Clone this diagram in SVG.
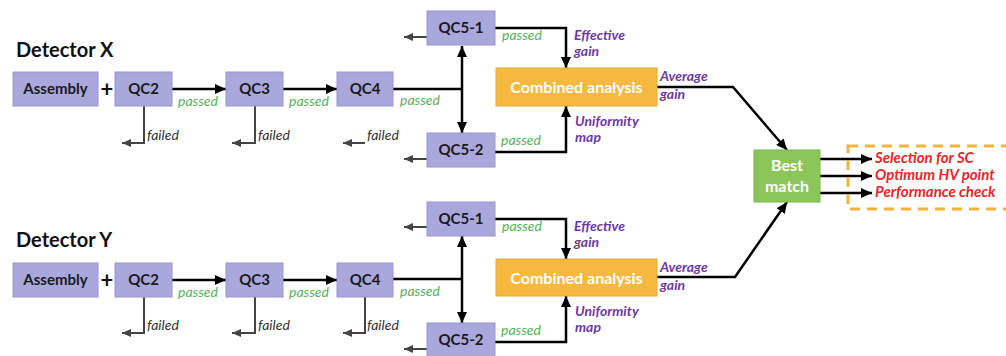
<svg xmlns="http://www.w3.org/2000/svg" width="1006" height="356" viewBox="0 0 1006 356">
<defs>
<style>
.box{fill:#A9A7DB;stroke:#9896CE;stroke-width:1}
.bt{font-family:Lato,"Liberation Sans",sans-serif;font-weight:bold;font-size:15px;fill:#1b1b1b;text-anchor:middle}
.det{font-family:Lato,"Liberation Sans",sans-serif;font-weight:bold;font-size:20px;fill:#111}
.plus{font-family:Lato,"Liberation Sans",sans-serif;font-weight:bold;font-size:22px;fill:#111;text-anchor:middle}
.pass{font-family:Lato,"Liberation Sans",sans-serif;font-style:italic;font-size:14px;fill:#55B159}
.fail{font-family:Lato,"Liberation Sans",sans-serif;font-style:italic;font-size:14px;fill:#333}
.pur{font-family:Lato,"Liberation Sans",sans-serif;font-style:italic;font-weight:bold;font-size:14px;fill:#7038A0}
.red{font-family:Lato,"Liberation Sans",sans-serif;font-style:italic;font-weight:bold;font-size:15px;fill:#E8262A}
.wt{font-family:Lato,"Liberation Sans",sans-serif;font-weight:bold;fill:#fff;text-anchor:middle}
.ca{fill:#F6B940;stroke:#E6A935;stroke-width:1}
.bm{fill:#8CC65A;stroke:#7DB64C;stroke-width:1}
.c{fill:none;stroke:#000;stroke-width:2.5}
.f{fill:none;stroke:#444;stroke-width:2}
</style>
<marker id="a" markerUnits="userSpaceOnUse" markerWidth="12" markerHeight="10" refX="11" refY="5" orient="auto-start-reverse"><path d="M0,0 L11,5 L0,10 Z" fill="#000"/></marker>
<marker id="g" markerUnits="userSpaceOnUse" markerWidth="10" markerHeight="8" refX="9" refY="4" orient="auto"><path d="M0,0 L9,4 L0,8 Z" fill="#444"/></marker>
</defs>
<rect width="1006" height="356" fill="#fff"/>

<g id="connectors">
<path class="c" d="M172,89 H226" marker-end="url(#a)"/>
<path class="c" d="M283,89 H337" marker-end="url(#a)"/>
<path class="c" d="M393,89 H462"/>
<path class="c" d="M462,46 V133" marker-start="url(#a)" marker-end="url(#a)"/>
<path class="c" d="M495,28 H566 V68" marker-end="url(#a)"/>
<path class="c" d="M495,152 H566 V106" marker-end="url(#a)"/>
<path class="c" d="M657,87 H733 L787,150" marker-end="url(#a)"/>
<path class="c" d="M820,159 H872" marker-end="url(#a)"/>
<path class="c" d="M820,176 H872" marker-end="url(#a)"/>
<path class="c" d="M820,193 H872" marker-end="url(#a)"/>
<path class="f" d="M144,106 V143 H122" marker-end="url(#g)"/>
<path class="f" d="M255,106 V143 H232" marker-end="url(#g)"/>
<path class="f" d="M365,143 H343" marker-end="url(#g)"/>
<path class="f" d="M427,37 H404" marker-end="url(#g)"/>
<path class="f" d="M427,159 H404" marker-end="url(#g)"/>

<path class="c" d="M172,280 H226" marker-end="url(#a)"/>
<path class="c" d="M283,280 H337" marker-end="url(#a)"/>
<path class="c" d="M393,279 H462"/>
<path class="c" d="M462,236 V323" marker-start="url(#a)" marker-end="url(#a)"/>
<path class="c" d="M495,219 H566 V259" marker-end="url(#a)"/>
<path class="c" d="M495,342 H566 V296" marker-end="url(#a)"/>
<path class="c" d="M657,277 H735 L787,202" marker-end="url(#a)"/>
<path class="f" d="M144,297 V333 H122" marker-end="url(#g)"/>
<path class="f" d="M255,297 V333 H232" marker-end="url(#g)"/>
<path class="f" d="M365,297 V333 H343" marker-end="url(#g)"/>
<path class="f" d="M427,227 H404" marker-end="url(#g)"/>
<path class="f" d="M427,349 H404" marker-end="url(#g)"/>
</g>

<g id="labels">
<text class="det" x="16" y="57">Detector X</text>
<text class="plus" x="107" y="97">+</text>
<text class="pass" x="178" y="106">passed</text>
<text class="pass" x="289" y="106">passed</text>
<text class="pass" x="400" y="105">passed</text>
<text class="pass" x="502" y="40">passed</text>
<text class="pass" x="501" y="145">passed</text>
<text class="fail" x="147" y="140">failed</text>
<text class="fail" x="258" y="140">failed</text>
<text class="fail" x="367" y="140">failed</text>
<text class="pur" x="574" y="40">Effective</text>
<text class="pur" x="574" y="56">gain</text>
<text class="pur" x="575" y="126">Uniformity</text>
<text class="pur" x="575" y="142">map</text>
<text class="pur" x="660" y="81" font-size="15">Average</text>
<text class="pur" x="660" y="99" font-size="15">gain</text>

<text class="det" x="16" y="247">Detector Y</text>
<text class="plus" x="107" y="288">+</text>
<text class="pass" x="178" y="297">passed</text>
<text class="pass" x="289" y="297">passed</text>
<text class="pass" x="400" y="296">passed</text>
<text class="pass" x="502" y="231">passed</text>
<text class="pass" x="501" y="335">passed</text>
<text class="fail" x="147" y="330">failed</text>
<text class="fail" x="258" y="330">failed</text>
<text class="fail" x="367" y="330">failed</text>
<text class="pur" x="574" y="231">Effective</text>
<text class="pur" x="574" y="247">gain</text>
<text class="pur" x="575" y="316">Uniformity</text>
<text class="pur" x="575" y="332">map</text>
<text class="pur" x="660" y="272" font-size="15">Average</text>
<text class="pur" x="660" y="290" font-size="15">gain</text>

<text class="red" x="875" y="163">Selection for SC</text>
<text class="red" x="875" y="180">Optimum HV point</text>
<text class="red" x="875" y="197">Performance check</text>
</g>

<g id="x-assembly"><rect class="box" x="13" y="72" width="85" height="34"/><text class="bt" x="55.5" y="94">Assembly</text></g>
<g id="x-qc2"><rect class="box" x="115" y="72" width="57" height="34"/><text class="bt" x="143.5" y="94">QC2</text></g>
<g id="x-qc3"><rect class="box" x="226" y="72" width="57" height="34"/><text class="bt" x="254.5" y="94">QC3</text></g>
<g id="x-qc4"><rect class="box" x="337" y="72" width="56" height="34"/><text class="bt" x="365" y="94">QC4</text></g>
<g id="x-qc5-1"><rect class="box" x="427" y="11" width="68" height="34"/><text class="bt" x="461" y="33">QC5-1</text></g>
<g id="x-qc5-2"><rect class="box" x="427" y="133" width="68" height="34"/><text class="bt" x="461" y="155">QC5-2</text></g>
<g id="x-combined"><rect class="ca" x="496" y="68" width="161" height="38"/><text class="wt" x="576.5" y="93" font-size="16">Combined analysis</text></g>

<g id="y-assembly"><rect class="box" x="13" y="263" width="85" height="34"/><text class="bt" x="55.5" y="285">Assembly</text></g>
<g id="y-qc2"><rect class="box" x="115" y="263" width="57" height="34"/><text class="bt" x="143.5" y="285">QC2</text></g>
<g id="y-qc3"><rect class="box" x="226" y="263" width="57" height="34"/><text class="bt" x="254.5" y="285">QC3</text></g>
<g id="y-qc4"><rect class="box" x="337" y="263" width="56" height="34"/><text class="bt" x="365" y="285">QC4</text></g>
<g id="y-qc5-1"><rect class="box" x="427" y="202" width="68" height="34"/><text class="bt" x="461" y="224">QC5-1</text></g>
<g id="y-qc5-2"><rect class="box" x="427" y="323" width="68" height="34"/><text class="bt" x="461" y="345">QC5-2</text></g>
<g id="y-combined"><rect class="ca" x="496" y="259" width="161" height="37"/><text class="wt" x="576.5" y="284" font-size="16">Combined analysis</text></g>

<g id="best-match"><rect class="bm" x="754" y="150" width="66" height="52"/><text class="wt" x="787" y="171" font-size="16">Best</text><text class="wt" x="787" y="192" font-size="16">match</text></g>
<g id="outputs"><rect x="848" y="146" width="170" height="63" fill="none" stroke="#F2B43A" stroke-width="3" stroke-dasharray="10 7"/></g>
</svg>
